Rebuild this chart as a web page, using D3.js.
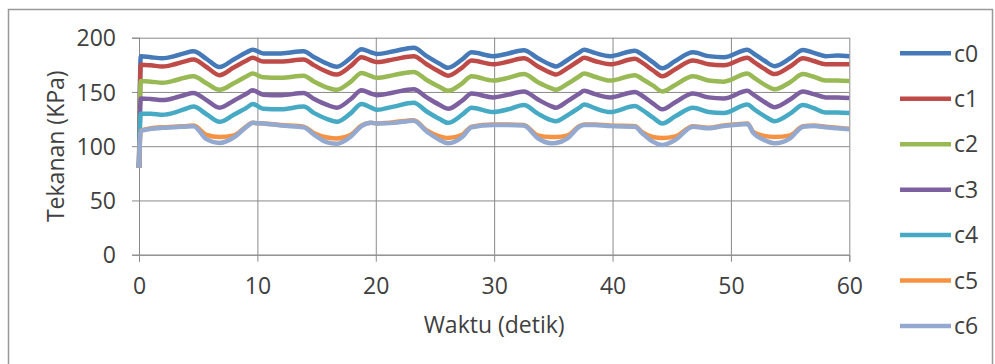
<!DOCTYPE html>
<html>
<head>
<meta charset="utf-8">
<script src="https://cdn.jsdelivr.net/npm/d3@7"></script>
<style>
  body { margin: 0; background: #fff; }
  text { font-family: "Open Sans", sans-serif; fill: #404040; }
</style>
</head>
<body>
<div id="chart"></div>
<script>
// time (detik) of each sampled point
var waktu = [0, 0.15, 1, 2, 3, 3.8, 4.6, 5.7, 6.8, 8.0,
  9.1, 9.6, 10.5, 12, 13.9, 14.8, 15.9, 16.7, 17.9, 18.8,
  19.6, 20.1, 21.5, 23.2, 24.3, 25.4, 26.1, 27.3, 28.1, 29.9,
  31.2, 32.5, 33.7, 34.8, 35.2, 36.2, 37.2, 37.6, 38.5, 39.8,
  41.9, 42.5, 43.4, 44.2, 45.3, 46.8, 48.1, 49.4, 51.4, 51.9,
  52.8, 53.7, 55.0, 56.1, 57.0, 58.0, 59.0, 60.0];

var c0 = [80, 183, 182, 181, 183, 185.5, 187.5, 180.5, 173, 180,
  186.5, 189, 185.5, 185.5, 187.5, 182, 176, 173.3, 181.5, 189.3,
  186.5, 185, 187.5, 190.8, 183, 176, 172.3, 180, 186.5, 183,
  185.5, 188.5, 181, 175, 173.5, 179.5, 186.5, 189, 186, 183,
  188, 184.5, 177.5, 171.8, 178.5, 186.5, 183, 182, 189, 185.5,
  179, 173.8, 181, 188.7, 186, 183, 183.5, 183];
var c1 = [80, 175, 174.5, 173.5, 175.5, 178, 180, 173, 165.5, 172.5,
  179, 181.5, 178, 178, 180, 174.5, 168.5, 166, 174, 182,
  179, 177.5, 180, 183, 175.5, 168.5, 165, 172.5, 179, 175.5,
  178, 181, 173.5, 167.5, 166, 172, 179, 181.5, 178.5, 175.5,
  180.5, 177, 170, 164.5, 171, 179, 175.5, 174.5, 181.5, 178,
  171.5, 166.5, 173.5, 181, 178.5, 175.5, 175.5, 175.5];
var c2 = [80, 160, 159.5, 158.5, 160.5, 163, 164.5, 158, 152, 158,
  164.5, 167, 163.5, 163, 165, 159.5, 154, 152, 159.5, 167.5,
  164.5, 163, 165.5, 168.5, 161, 154.5, 151, 158, 164.5, 160.5,
  163, 166.5, 159, 153.5, 152, 157.5, 164.5, 167, 164, 160.5,
  165.5, 162, 156, 150.5, 156.5, 164.5, 160.5, 159.5, 167, 163.5,
  157, 152.5, 159, 166.5, 164, 160.5, 160.5, 160];
var c3 = [80, 144, 143.5, 142.5, 144.5, 147, 149, 142.5, 135.5, 142,
  148.5, 151.5, 147.5, 147, 149, 143.5, 138, 135.5, 143.5, 151.5,
  148.5, 147, 149.5, 152.5, 145, 138, 134.5, 142, 148.5, 145,
  147.5, 150.5, 143, 137, 135.5, 141.5, 148.5, 151, 148, 145,
  150, 146.5, 139.5, 134, 140.5, 148.5, 145, 144, 151, 147.5,
  141, 136, 143, 150.5, 148, 145, 145, 144.5];
var c4 = [80, 130, 130, 129, 131, 134, 136.5, 129.5, 122.5, 129,
  135.5, 139, 134.5, 134, 136.5, 130.5, 125, 122.5, 130.5, 139,
  135.5, 133.5, 136.5, 140, 132, 125, 121.5, 129, 135.5, 131.5,
  134, 138, 130, 124, 123, 128.5, 135.5, 138.5, 135, 131.5,
  137, 133.5, 126.5, 121, 127.5, 135.5, 131.5, 130.5, 138.5, 134.5,
  128, 123, 130, 138, 135, 131, 131, 130.5];
var c5 = [80, 114.5, 116.5, 117.5, 118, 118.5, 119, 110.5, 108.5, 110,
  118.5, 121.5, 121, 119.5, 118, 112, 108, 107, 110.5, 119,
  121.5, 121, 122, 124, 114.5, 109, 107.5, 110.5, 118, 120,
  120, 119.5, 110, 108.5, 108.5, 110, 118.5, 120, 120, 119,
  118.5, 113, 108.5, 107.5, 109, 118.5, 117, 119, 121, 113,
  109.5, 108.5, 110, 118.5, 119, 118, 117, 116];
var c6 = [80, 114, 116, 117, 117.5, 118, 118.5, 106.5, 103, 108,
  118, 121.5, 121, 119, 117.5, 110.5, 103.5, 102.3, 109, 118.5,
  121.5, 121, 121.5, 123.5, 113.5, 105.8, 102.7, 108.5, 117.5, 119.5,
  119.5, 119, 107.3, 102.7, 103, 107.3, 118, 119.5, 119.6, 118.5,
  118, 112, 104.2, 101.2, 105.8, 118, 116.5, 118.5, 120.5, 112,
  105.8, 102.7, 107.3, 118, 118.6, 117.4, 116.5, 115.6];

var seriesNames = ["c0", "c1", "c2", "c3", "c4", "c5", "c6"];
var seriesValues = [c0, c1, c2, c3, c4, c5, c6];
var xTicks = [0, 10, 20, 30, 40, 50, 60];
var yTicks = [0, 50, 100, 150, 200];

var colors = ["#4579B8", "#BE4B48", "#98B954", "#7D60A0", "#46AAC5", "#F69240", "#93A9CF"];

var svg = d3.select("#chart")
  .append("svg")
    .attr("width", 995)
    .attr("height", 364);

// outer chart border
svg.append("rect")
  .attr("x", 8.5).attr("y", 9.5)
  .attr("width", 984).attr("height", 370)
  .attr("fill", "none")
  .attr("stroke", "#999")
  .attr("stroke-width", 1.5);

var plot = {left: 139, right: 849.3, top: 37.7, bottom: 254.7};

var x = d3.scaleLinear().domain([0, 60]).range([plot.left, plot.right]);
var y = d3.scaleLinear().domain([0, 200]).range([plot.bottom, plot.top]);

// gridlines
svg.append("g")
  .attr("transform", "translate(" + plot.left + ",0)")
  .call(d3.axisLeft(y).tickValues(yTicks).tickSize(-(plot.right - plot.left)).tickFormat(""))
  .call(g => g.select(".domain").remove())
  .selectAll("line").attr("stroke", "#8a8a8a");
svg.append("g")
  .attr("transform", "translate(0," + plot.bottom + ")")
  .call(d3.axisBottom(x).tickValues(xTicks).tickSize(-(plot.bottom - plot.top)).tickFormat(""))
  .call(g => g.select(".domain").remove())
  .selectAll("line").attr("stroke", "#8a8a8a");

// Y axis
var yAxis = svg.append("g")
  .attr("transform", "translate(" + plot.left + ",0)")
  .call(d3.axisLeft(y).tickValues(yTicks).tickSize(7).tickPadding(16));
yAxis.selectAll("line, path").attr("stroke", "#8a8a8a");
yAxis.selectAll("text")
  .attr("dy", "0.36em")
  .style("font-size", "23px")
  .style("font-family", "'Open Sans', sans-serif")
  .attr("fill", "#404040");

// X axis
var xAxis = svg.append("g")
  .attr("transform", "translate(0," + plot.bottom + ")")
  .call(d3.axisBottom(x).tickValues(xTicks).tickSize(7).tickPadding(16));
xAxis.selectAll("line, path").attr("stroke", "#8a8a8a");
xAxis.selectAll("text")
  .style("font-size", "23px")
  .style("font-family", "'Open Sans', sans-serif")
  .attr("fill", "#404040");

// axis titles
svg.append("text")
  .attr("x", (plot.left + plot.right) / 2)
  .attr("y", 333)
  .attr("text-anchor", "middle")
  .style("font-size", "23px")
  .text("Waktu (detik)");

svg.append("text")
  .attr("transform", "translate(64," + (plot.top + plot.bottom) / 2 + ")rotate(-90)")
  .attr("text-anchor", "middle")
  .style("font-size", "23px")
  .text("Tekanan (KPa)");

// lines
var line = d3.line()
  .x(function(d, i) { return x(waktu[i]); })
  .y(function(d) { return y(d); })
  .curve(d3.curveMonotoneX);

svg.append("g")
  .selectAll("path")
  .data(seriesValues)
  .enter()
  .append("path")
    .attr("d", line)
    .attr("fill", "none")
    .attr("stroke", function(d, i) { return colors[i]; })
    .attr("stroke-width", 4.5)
    .attr("stroke-linejoin", "round");

// legend
var legend = svg.selectAll(".legend")
  .data(seriesNames)
  .enter().append("g")
    .attr("class", "legend")
    .attr("transform", function(d, i) { return "translate(0," + (53.3 + i * 45.45) + ")"; });

legend.append("line")
  .attr("x1", 900).attr("x2", 951)
  .attr("stroke", function(d, i) { return colors[i]; })
  .attr("stroke-width", 4.5);

legend.append("text")
  .attr("x", 954)
  .attr("dy", "0.36em")
  .style("font-size", "23px")
  .text(function(d) { return d; });
</script>
</body>
</html>
